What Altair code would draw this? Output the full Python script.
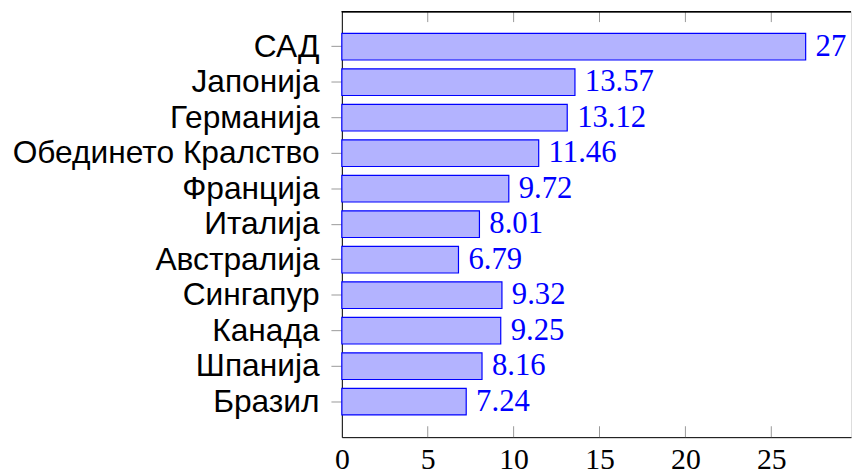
import altair as alt
import pandas as pd

countries = ["САД", "Јапонија", "Германија", "Обединето Кралство", "Франција",
             "Италија", "Австралија", "Сингапур", "Канада", "Шпанија", "Бразил"]
values = [27, 13.57, 13.12, 11.46, 9.72, 8.01, 6.79, 9.32, 9.25, 8.16, 7.24]
x_ticks = [0, 5, 10, 15, 20, 25]

TOTAL_W, H = 852, 430

df = pd.DataFrame({"country": countries, "value": values,
                   "label": [f"{v:g}" for v in values]})
ticks_df = pd.DataFrame({"t": x_ticks[1:]})

xscale = alt.Scale(domain=[0, 29.64], nice=False, zero=True)
yscale = alt.Scale(paddingInner=0.25, paddingOuter=0.625)

base = alt.Chart(df)

bars = base.mark_bar(fill="#b3b3ff", stroke="#0000ff", strokeWidth=1.2).encode(
    x=alt.X("value:Q", scale=xscale,
            axis=alt.Axis(values=x_ticks, title=None, tickSize=0, labelPadding=8,
                          labelFont="Liberation Serif", labelFontSize=30,
                          labelColor="black", domainColor="black", grid=False,
                          labelFlush=False)),
    y=alt.Y("country:N", sort=countries, scale=yscale,
            axis=alt.Axis(title=None, tickSize=11, tickColor="#999999",
                          labelPadding=12, labelFont="Liberation Sans",
                          labelFontSize=32, labelColor="black",
                          domainColor="black", labelLimit=500)),
)

labels = base.mark_text(align="left", baseline="middle", dx=10,
                        font="Liberation Serif", fontSize=31, color="#0000ff").encode(
    x=alt.X("value:Q", scale=xscale),
    y=alt.Y("country:N", sort=countries, scale=yscale),
    text="label:N",
)

top_axis = alt.Chart(ticks_df).mark_rule(color="black", strokeWidth=1).encode(
    x=alt.value(0), x2=alt.value("width"), y=alt.value(0.5)
)

tick_top = alt.Chart(ticks_df).mark_rule(color="#999999", strokeWidth=1).encode(
    x=alt.X("t:Q", scale=xscale), y=alt.value(0), y2=alt.value(11)
)
tick_bot = alt.Chart(ticks_df).mark_rule(color="#999999", strokeWidth=1).encode(
    x=alt.X("t:Q", scale=xscale), y=alt.value(H), y2=alt.value(H - 11)
)

chart = alt.layer(bars, tick_top, tick_bot, top_axis, labels).properties(
    width=TOTAL_W, height=H,
    autosize=alt.AutoSizeParams(type="fit-x", contains="padding"),
    padding={"left": 4, "top": 0, "right": 0, "bottom": 0}
).configure_view(stroke=None).configure(background="white")

chart.save("out.html", embed_options={"renderer": "svg", "actions": False})
